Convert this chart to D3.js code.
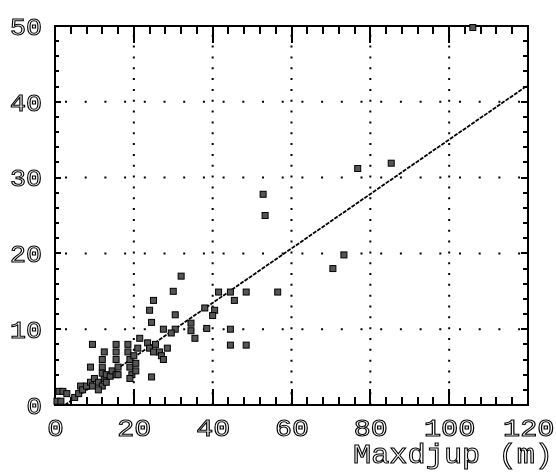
<!DOCTYPE html>
<html>
<head>
<meta charset="utf-8">
<script src="https://cdn.jsdelivr.net/npm/d3@7"></script>
<style>
  body { margin: 0; background: #fff; }
  svg { display: block; }
  .lbl { filter: grayscale(1); }
  .lbl text { font-family: "Liberation Mono", monospace; fill: #fff; stroke: #000; stroke-width: 1px; }
</style>
</head>
<body>
<svg id="chart" width="556" height="472"></svg>
<script>
// depth data
const maxDepth = [0.5, 1.5, 1, 2, 3, 5, 6, 6.5, 7, 8, 9, 9.5, 10, 11, 12, 12.5, 11, 13,
  9, 9.5, 12, 12, 12.5, 12, 13, 14, 14.5, 15.5, 16, 16, 15.5, 15.5, 15.5,
  18.5, 18.5, 19, 19, 19.5, 19, 20, 20.5, 20.5, 21, 21.5, 24.5, 23.5, 24, 25, 25.5,
  26.5, 27, 28.5, 27.5, 24.5, 24, 25, 30, 32, 27.5, 30.5, 30.5, 29.5, 34.5, 34.5,
  35.5, 38.5, 38, 40.5, 40, 41.5, 44.5, 45.5, 48.5, 44.5, 44.5, 48.5, 56.5,
  52.8, 53.3, 70.5, 73.3, 76.8, 85.3, 106];
const meanDepth = [0.5, 0.5, 1.8, 1.8, 1.5, 1, 1.5, 2.5, 2, 2.5, 3, 2.5, 3.5, 3, 2.5, 3.5, 2, 3,
  5, 8, 5, 6, 7, 4.2, 4, 3.8, 4.5, 4, 5, 4, 6, 7, 8,
  8, 7, 6, 5, 4, 3.5, 6.5, 5.5, 4.5, 7.5, 8.8, 3.7, 8.2, 7.5, 7, 8,
  7, 6.5, 7.5, 6, 10.9, 12.5, 13.8, 15, 17, 10, 10, 11.9, 9.5, 10.8, 9.8,
  8.8, 10.1, 12.8, 12.5, 11.8, 14.9, 14.9, 13.8, 14.9, 10, 7.9, 7.9, 14.9,
  27.8, 25, 18, 19.8, 31.2, 31.9, 49.8];

// fitted line end points
const fitX = [2.5, 120];
const fitY = [0, 42.2];

const xTicks = [0, 20, 40, 60, 80, 100, 120];
const yTicks = [0, 10, 20, 30, 40, 50];
const xTitle = 'Maxdjup (m)';

const svg = d3.select('#chart');
const margin = { top: 26, right: 28, bottom: 67, left: 55 };
const width = 556, height = 472;

const x = d3.scaleLinear().domain([0, 120]).range([margin.left, width - margin.right]);
const y = d3.scaleLinear().domain([0, 50]).range([height - margin.bottom, margin.top]);

svg.append('rect').attr('width', width).attr('height', height).attr('fill', '#fff');

// dotted grid
const gridX = d3.range(20, 120, 20);
const gridY = d3.range(10, 50, 10);
svg.append('g').selectAll('line').data(gridX).join('line')
  .attr('x1', d => x(d)).attr('x2', d => x(d))
  .attr('y1', y(0)).attr('y2', y(50))
  .attr('stroke', '#000').attr('stroke-width', 2)
  .attr('stroke-dasharray', '2,8.83');
svg.append('g').selectAll('line').data(gridY).join('line')
  .attr('x1', x(0)).attr('x2', x(120))
  .attr('y1', d => y(d)).attr('y2', d => y(d))
  .attr('stroke', '#000').attr('stroke-width', 2)
  .attr('stroke-dasharray', '2,17.7')
  .attr('stroke-dashoffset', -10);

// frame
svg.append('rect')
  .attr('x', x(0)).attr('y', y(50))
  .attr('width', x(120) - x(0)).attr('height', y(0) - y(50))
  .attr('fill', 'none').attr('stroke', '#000').attr('stroke-width', 2);

// ticks pointing inward on all four sides
const minorX = d3.range(4, 120, 4).filter(d => d % 20 !== 0);
const minorY = d3.range(2, 50, 2).filter(d => d % 10 !== 0);

const tickRects = (vals, pos, len, vertical) => {
  svg.append('g').selectAll('rect').data(vals).join('rect')
    .attr('x', d => vertical ? Math.round(x(d)) - 1 : Math.min(pos, pos + len))
    .attr('y', d => vertical ? Math.min(pos, pos + len) : Math.round(y(d)) - 1)
    .attr('width', vertical ? 2 : Math.abs(len))
    .attr('height', vertical ? Math.abs(len) : 2)
    .attr('fill', '#000');
};

tickRects(minorX, y(0), -8, true);
tickRects(gridX, y(0), -16, true);
tickRects(minorX, y(50), 8, true);
tickRects(gridX, y(50), 17, true);
tickRects(minorY, x(0), 4, false);
tickRects(gridY, x(0), 6, false);
tickRects(minorY, x(120), -5, false);
tickRects(gridY, x(120), -7, false);

// regression line
svg.append('path')
  .datum(fitX.map((d, i) => [d, fitY[i]]))
  .attr('d', d3.line().x(d => x(d[0])).y(d => y(d[1])))
  .attr('fill', 'none').attr('stroke', '#000').attr('stroke-width', 1.8)
  .attr('stroke-dasharray', '4,1.2');

// points
const pts = maxDepth.map((d, i) => ({ x: d, y: meanDepth[i] }));
svg.append('g').selectAll('rect').data(pts).join('rect')
  .attr('x', d => x(d.x) - 3).attr('y', d => y(d.y) - 3)
  .attr('width', 6).attr('height', 6)
  .attr('fill', '#555').attr('stroke', '#000').attr('stroke-width', 1);

// tick labels
const xl = svg.append('g').attr('class', 'lbl').attr('transform', `translate(0,${y(0) + 12})`)
  .call(d3.axisBottom(x).tickValues(xTicks).tickSize(0).tickFormat(d3.format('d')));
xl.select('.domain').remove();
xl.selectAll('text')
  .attr('font-size', 23).attr('dy', '0.71em')
  .attr('textLength', d => String(d).length * 17.5 - 1)
  .attr('lengthAdjust', 'spacingAndGlyphs');
// keep 120 inside the window
xl.selectAll('.tick').filter(d => d === 120).select('text').attr('text-anchor', 'end').attr('x', 26);

const yl = svg.append('g').attr('class', 'lbl').attr('transform', `translate(${x(0) - 13},0)`)
  .call(d3.axisLeft(y).tickValues(yTicks).tickSize(0).tickFormat(d3.format('d')));
yl.select('.domain').remove();
yl.selectAll('text')
  .attr('font-size', 23).attr('x', 0).attr('dy', '0.36em')
  .attr('textLength', d => String(d).length * 16.5 - 1)
  .attr('lengthAdjust', 'spacingAndGlyphs');

svg.append('g').attr('class', 'lbl').append('text')
  .attr('x', 553).attr('y', 463)
  .attr('text-anchor', 'end')
  .attr('font-size', 27)
  .attr('textLength', 200).attr('lengthAdjust', 'spacingAndGlyphs')
  .text(xTitle);
</script>
</body>
</html>
